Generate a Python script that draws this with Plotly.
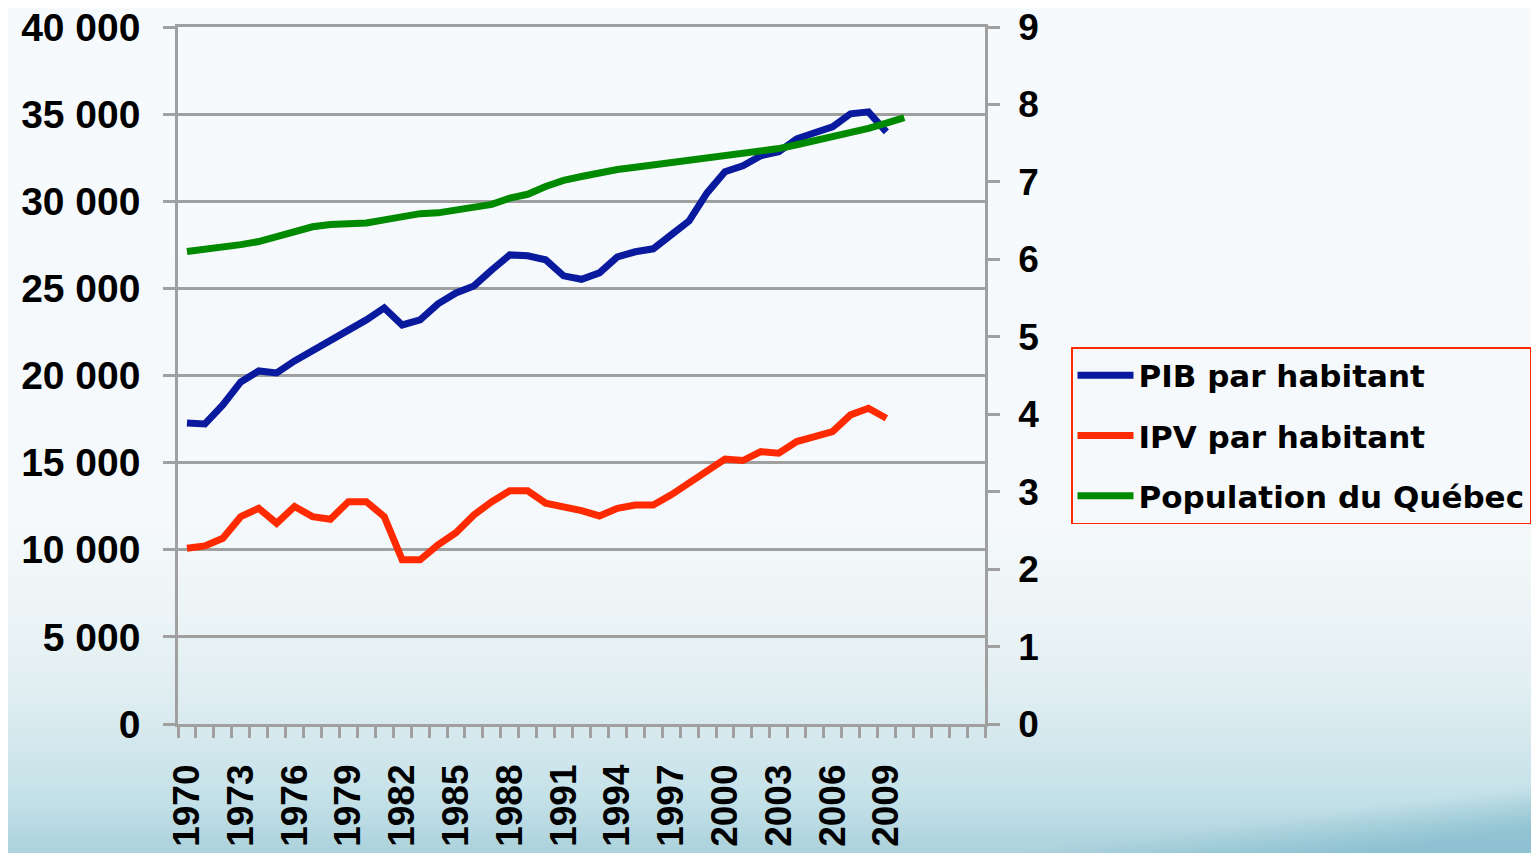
import base64, struct, zlib
import plotly.graph_objects as go

# ---------------- data ----------------
years = list(range(1970, 2011))
pib_par_habitant = [17280, 17220, 18310, 19630, 20260, 20150, 20840, 21410, 21990, 22620,
                    23190, 23880, 22900, 23190, 24110, 24740, 25140, 26060, 26920, 26870,
                    26640, 25720, 25520, 25890, 26810, 27100, 27270, 28070, 28870, 30480,
                    31690, 32030, 32610, 32840, 33580, 33930, 34270, 35020, 35130, 33980]
ipv_par_habitant = [10090, 10220, 10660, 11900, 12380, 11520, 12480, 11900, 11750, 12760,
                    12760, 11900, 9420, 9420, 10280, 10980, 12000, 12760, 13380, 13380,
                    12670, 12500, 12250, 11940, 12380, 12570, 12570, 13150, 13820, 14580,
                    15210, 15120, 15630, 15540, 16210, 16490, 16780, 17740, 18120, 17550]
population_quebec = [6.10, 6.13, 6.14, 6.19, 6.23, 6.29, 6.36, 6.42, 6.45, 6.45,
                     6.47, 6.51, 6.55, 6.59, 6.60, 6.64, 6.67, 6.71, 6.79, 6.84,
                     6.94, 7.02, 7.07, 7.12, 7.16, 7.19, 7.22, 7.25, 7.27, 7.30,
                     7.33, 7.36, 7.39, 7.43, 7.48, 7.53, 7.58, 7.64, 7.69, 7.76, 7.83]
x_tick_years = list(range(1970, 2010, 3))
x_tick_labels = [str(y) for y in x_tick_years]
left_ticks = list(range(0, 40001, 5000))
right_ticks = list(range(0, 10))
series_names = ["PIB par habitant", "IPV par habitant", "Population du Québec"]

# ---------------- layout geometry (page has an 8px body margin) ----------------
OFF = 8
FIG_W, FIG_H = 1539 - OFF, 853 - OFF
ML, MT = 178 - OFF, 27 - OFF
PLOT_R, PLOT_B = 985 - OFF, 724 - OFF
MR, MB = FIG_W - PLOT_R, FIG_H - PLOT_B
PW, PH = FIG_W - ML - MR, FIG_H - MT - MB

# ---------------- background gradient image ----------------
W, H = 383, 211
stops = [(0, (246, 250, 252)), (520, (245, 249, 251)), (600, (238, 245, 247)),
         (700, (223, 237, 241)), (800, (196, 225, 232)), (853, (172, 210, 221))]
def grad(py):
    for (y0, c0), (y1, c1) in zip(stops, stops[1:]):
        if py <= y1:
            t = (py - y0) / (y1 - y0)
            return tuple(c0[k] + (c1[k] - c0[k]) * t for k in range(3))
    return stops[-1][1]
dark = (134, 190, 207)
rows = []
for j in range(H):
    py = (j + 0.5) * FIG_H / H + OFF
    base = grad(py)
    row = []
    for i in range(W):
        px = (i + 0.5) * FIG_W / W + OFF
        s = px / 1539
        edge = 860 - 75 * (s - 0.62) / 0.38 if s > 0.62 else 5000
        d = py - edge
        a = min(1.0, d / 45.0) * 0.8 if d > 0 else 0.0
        c = [base[k] + (dark[k] - base[k]) * a for k in range(3)]
        row.extend(int(round(v)) for v in c)
    rows.append(row)
raw = b"".join(b"\x00" + bytes(r) for r in rows)
def chunk(tag, data):
    c = struct.pack(">I", len(data)) + tag + data
    return c + struct.pack(">I", zlib.crc32(tag + data) & 0xFFFFFFFF)
png = (b"\x89PNG\r\n\x1a\n" + chunk(b"IHDR", struct.pack(">IIBBBBB", W, H, 8, 2, 0, 0, 0))
       + chunk(b"IDAT", zlib.compress(raw, 9)) + chunk(b"IEND", b""))
bg_uri = "data:image/png;base64," + base64.b64encode(png).decode()

# ---------------- figure ----------------
fig = go.Figure()
colors = ["#0a1a9e", "#ff2a00", "#008a00"]
fig.add_trace(go.Scatter(x=years[:len(pib_par_habitant)], y=pib_par_habitant, name=series_names[0],
                         mode="lines", line=dict(color=colors[0], width=7), legendgroup="a"))
fig.add_trace(go.Scatter(x=years[:len(ipv_par_habitant)], y=ipv_par_habitant, name=series_names[1],
                         mode="lines", line=dict(color=colors[1], width=7), legendgroup="b"))
fig.add_trace(go.Scatter(x=years, y=population_quebec, name=series_names[2], yaxis="y2",
                         mode="lines", line=dict(color=colors[2], width=7), legendgroup="c"))

axis_col = "#a0a0a0"
bold_sans = "Liberation Sans, Arial, sans-serif"

fig.update_layout(
    width=FIG_W, height=FIG_H,
    margin=dict(l=ML, r=MR, t=MT, b=MB, pad=0, autoexpand=False),
    paper_bgcolor="#f6fafc",
    plot_bgcolor="rgba(0,0,0,0)",
    separators=". ",
    showlegend=True,
    legend=dict(xref="container", yref="container", x=(1071 - OFF) / FIG_W, y=1 - (347 - OFF) / FIG_H,
                xanchor="left", yanchor="top",
                bordercolor="#ff2a00", borderwidth=1.5, bgcolor="rgba(0,0,0,0)",
                font=dict(family="DejaVu Sans, Verdana, sans-serif", size=31, color="#000000", weight="bold"),
                tracegroupgap=17, itemwidth=56),
    xaxis=dict(range=[1969.5, 2014.5], tickmode="array", tickvals=x_tick_years, ticktext=x_tick_labels,
               tickangle=-90, ticks="", showgrid=False, zeroline=False, automargin=False,
               showline=True, linecolor=axis_col, linewidth=2.5, mirror=True,
               tickfont=dict(family=bold_sans, size=37, color="#000", weight="bold"),
               ticklabelstandoff=23, ticklabeloverflow="allow",
               minor=dict(ticks="outside", tick0=1969.5, dtick=1, ticklen=11, tickwidth=2.5,
                          tickcolor=axis_col, showgrid=False)),
    yaxis=dict(range=[0, 40000], tickmode="array", tickvals=left_ticks, tickformat=",d",
               ticks="outside", ticklen=12, tickwidth=2.5, tickcolor=axis_col, automargin=False,
               showgrid=True, gridcolor=axis_col, gridwidth=2.5, zeroline=False,
               showline=True, linecolor=axis_col, linewidth=2.5,
               tickfont=dict(family=bold_sans, size=39, color="#000", weight="bold"),
               ticklabelstandoff=15, ticklabeloverflow="allow"),
    yaxis2=dict(range=[0, 9], tickmode="array", tickvals=right_ticks, overlaying="y", side="right",
                ticks="outside", ticklen=12, tickwidth=2.5, tickcolor=axis_col, automargin=False,
                showgrid=False, zeroline=False, showline=True, linecolor=axis_col, linewidth=2.5,
                tickfont=dict(family=bold_sans, size=37, color="#000", weight="bold"),
                ticklabelstandoff=11, ticklabeloverflow="allow"),
    images=[dict(source=bg_uri, xref="paper", yref="paper",
                 x=-ML / PW, y=1 + MT / PH, sizex=FIG_W / PW, sizey=FIG_H / PH,
                 xanchor="left", yanchor="top", sizing="stretch", layer="below")],
)

fig.write_html("out.html")
